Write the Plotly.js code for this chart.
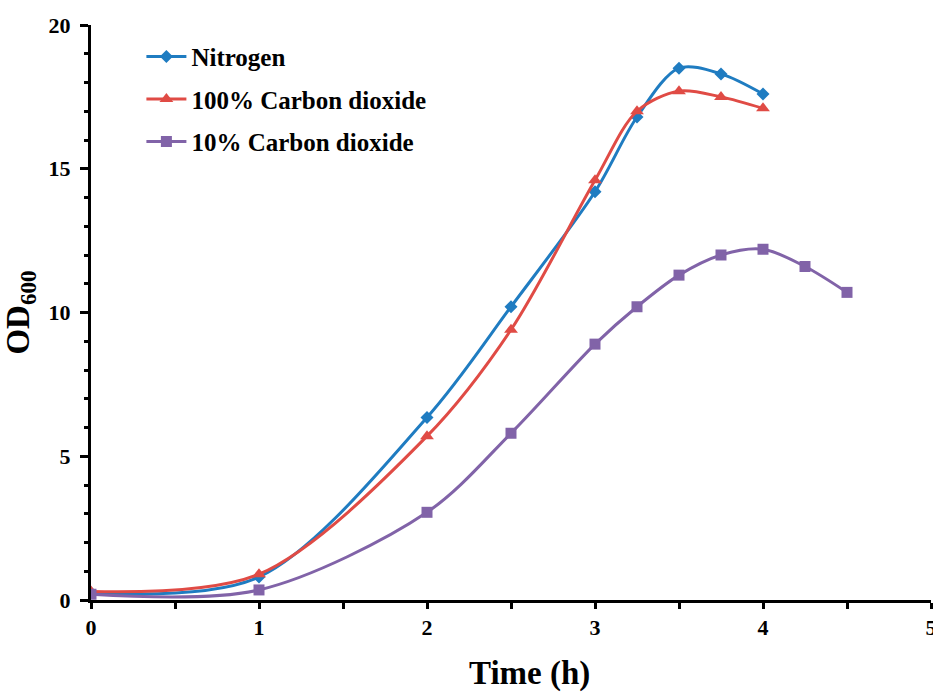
<!DOCTYPE html>
<html>
<head>
<meta charset="utf-8">
<script src="https://cdn.plot.ly/plotly-3.0.1.min.js"></script>
<style>html,body{margin:0;padding:0;background:#fff;}#chart{width:933px;height:693px;}</style>
</head>
<body>
<div id="chart"></div>
<script>
const nitrogenX = [0, 1, 2, 2.5, 3, 3.25, 3.5, 3.75, 4];
const nitrogenY = [0.25, 0.8, 6.35, 10.2, 14.2, 16.8, 18.5, 18.3, 17.6];
const co2FullX = [0, 1, 2, 2.5, 3, 3.25, 3.5, 3.75, 4];
const co2FullY = [0.3, 0.9, 5.7, 9.4, 14.6, 17.0, 17.7, 17.5, 17.1];
const co2TenX = [0, 1, 2, 2.5, 3, 3.25, 3.5, 3.75, 4, 4.25, 4.5];
const co2TenY = [0.2, 0.35, 3.05, 5.8, 8.9, 10.2, 11.3, 12.0, 12.2, 11.6, 10.7];
const seriesNames = ["Nitrogen", "100% Carbon dioxide", "10% Carbon dioxide"];
const xTitle = "Time (h)";
const yTitle = "OD<sub>600</sub>";

const font = "Liberation Serif, Times New Roman, serif";
function tr(x, y, name, color, symbol, size) {
  return {
    x: x, y: y, name: name, legendgroup: name, type: "scatter", mode: "lines+markers",
    line: {color: color, width: 3, shape: "spline", smoothing: 0.9},
    marker: {color: color, symbol: symbol, size: size}
  };
}
const data = [
  tr(nitrogenX, nitrogenY, seriesNames[0], "#1f7cc1", "diamond", 10),
  tr(co2FullX, co2FullY, seriesNames[1], "#e04b45", "triangle-up", 12),
  tr(co2TenX, co2TenY, seriesNames[2], "#8163a8", "square", 11)
];
const layout = {
  width: 933, height: 693,
  margin: {l: 91, r: 2, t: 25, b: 93},
  paper_bgcolor: "#fff", plot_bgcolor: "#fff",
  font: {family: font, color: "#000"},
  showlegend: true,
  legend: {x: 0.06, y: 0.985, xanchor: "left", yanchor: "top",
    font: {family: font, size: 25, color: "#000", weight: "bold"},
    bgcolor: "rgba(0,0,0,0)", traceorder: "grouped", tracegroupgap: 7, itemwidth: 40},
  xaxis: {
    range: [0, 5], dtick: 1, tick0: 0,
    showgrid: false, zeroline: false,
    showline: true, linecolor: "#000", linewidth: 3,
    ticks: "outside", ticklen: 6, tickwidth: 3, tickcolor: "#000",
    minor: {dtick: 0.5, ticks: "outside", ticklen: 6, tickwidth: 3, tickcolor: "#000", showgrid: false},
    tickfont: {family: font, size: 22, color: "#000", weight: "bold"},
    ticklabeloverflow: "allow",
    title: {text: ""}
  },
  yaxis: {
    range: [0, 20], dtick: 5, tick0: 0,
    showgrid: false, zeroline: false,
    showline: true, linecolor: "#000", linewidth: 3,
    ticks: "outside", ticklen: 8, tickwidth: 3, tickcolor: "#000",
    minor: {dtick: 1, ticks: "outside", ticklen: 4, tickwidth: 3, tickcolor: "#000", showgrid: false},
    tickfont: {family: font, size: 22, color: "#000", weight: "bold"},
    ticklabelstandoff: 5,
    title: {text: yTitle, font: {family: font, size: 33, color: "#000", weight: "bold"}, standoff: 12}
  },
  annotations: [{
    text: xTitle, xref: "paper", yref: "paper", x: 0.5226, y: -0.128,
    xanchor: "center", yanchor: "middle", showarrow: false,
    font: {family: font, size: 33, color: "#000", weight: "bold"}
  }]
};
Plotly.newPlot("chart", data, layout, {staticPlot: true});
</script>
</body>
</html>
